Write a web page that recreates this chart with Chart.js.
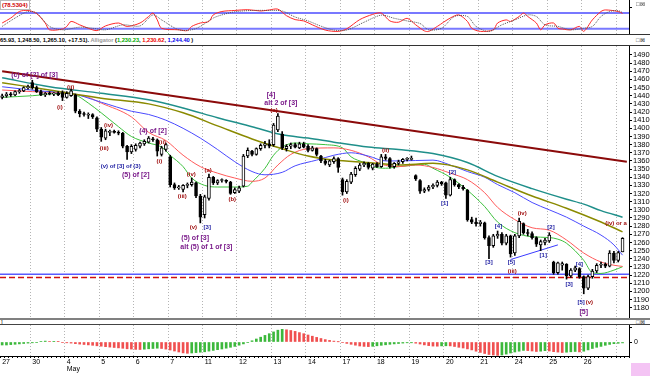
<!DOCTYPE html>
<html>
<head>
<meta charset="utf-8">
<title>Alligator hourly</title>
<script src="https://cdn.jsdelivr.net/npm/chart.js@4.4.1/dist/chart.umd.min.js"></script>
<style>
  html, body { margin: 0; padding: 0; background: #fff; }
  #wrap { position: relative; width: 650px; height: 376px; overflow: hidden; font-family: "Liberation Sans", Arial, sans-serif; }
  canvas { position: absolute; left: 0; }
  .rule { position: absolute; left: 0; width: 650px; }
  #hdr { position: absolute; left: 0; top: 35px; height: 10px; line-height: 10px; font-size: 5.7px; font-weight: bold; white-space: nowrap; color: #000; }
  #stochVal { position: absolute; left: 0; top: 0; font-size: 6px; font-weight: bold; color: #d00000; background: #fff; padding: 0 1px; line-height: 8px; border: 1px solid #bbb; }
  .icons { position: absolute; left: 636px; font-size: 6px; line-height: 6px; color: #333; }
  #pink { position: absolute; left: 631px; top: 363px; width: 19px; height: 13px; background: #f4c4f4; }
</style>
</head>
<body>
<div id="wrap">
  <canvas id="stoch" width="650" height="34" style="top:0"></canvas>
  <div id="stochVal">(78.5304)</div>
  <div class="icons" style="top:1px">&#9633;&#8864;</div>
  <div class="rule" style="top:34px;height:1px;background:#333"></div>
  <div id="hdr">65.93, 1,248.50, 1,265.10, +17.51). <span style="color:#999">Alligator</span> (<span style="color:#0a0">1,230.23</span>, <span style="color:#e00">1,230.62</span>, <span style="color:#00e">1,244.40</span> )</div>
  <div class="icons" style="top:37px">&#9633;&#8864;</div>
  <div class="rule" style="top:45px;height:1px;background:#333"></div>
  <canvas id="main" width="650" height="272" style="top:46px"></canvas>
  <div class="rule" style="top:318px;height:2px;background:#808080"></div>
  <div style="position:absolute;left:1px;top:319px;font-size:6px;line-height:6px">]</div>
  <div class="icons" style="top:319px">&#9633;&#8864;</div>
  <div class="rule" style="top:324px;height:1px;background:#444"></div>
  <canvas id="ao" width="650" height="51" style="top:325px"></canvas>
  <div id="pink"></div>
</div>
<script>
// hourly bars, 8 per session (first session partly off screen)
const dayNames = ['27', '30', '4', '5', '6', '7', '11', '12', '13', '14', '17', '18', '19', '20', '21', '24', '25', '26'];
const dayFirstBar = [0, 7, 15, 23, 31, 39, 47, 55, 63, 71, 79, 87, 95, 103, 111, 119, 127, 135, 143];
const monthMarks = [[15, 'May']];
const slotCount = 146;

// [open, high, low, close]
const ohlc = [
  // Apr 27
  [1438,1442,1436,1440],[1440,1444,1438,1442],[1442,1444,1439,1441],[1441,1446,1440,1445],
  [1445,1448,1443,1446],[1446,1451,1445,1450],[1450,1453,1448,1451],
  // Apr 30
  [1456,1459,1448,1450],[1450,1452,1444,1445],[1445,1447,1440,1441],[1441,1444,1439,1443],
  [1443,1445,1441,1442],[1442,1444,1440,1443],[1443,1445,1440,1441],[1444,1446,1434,1438],
  // May 4
  [1438,1445,1437,1443],[1440,1448,1439,1446],[1441,1442,1419,1421],[1421,1423,1414,1418],
  [1418,1420,1415,1417],[1416,1419,1412,1417],[1417,1418,1412,1414],[1413,1414,1396,1399],
  // May 5
  [1399,1401,1384,1389],[1388,1399,1386,1397],[1395,1398,1391,1396],[1396,1398,1394,1395],
  [1395,1397,1392,1394],[1394,1395,1376,1378],[1378,1379,1362,1371],[1371,1380,1369,1378],
  // May 6
  [1374,1381,1372,1379],[1378,1383,1376,1382],[1381,1386,1379,1384],[1383,1390,1382,1388],
  [1387,1389,1384,1386],[1386,1387,1366,1372],[1368,1378,1366,1376],[1374,1382,1372,1380],
  // May 7
  [1365,1367,1328,1331],[1331,1333,1325,1327],[1327,1330,1325,1328],[1325,1331,1322,1330],
  [1330,1333,1327,1331],[1331,1339,1329,1334],[1333,1334,1315,1317],[1317,1319,1284,1291],
  // May 11
  [1294,1318,1290,1316],[1314,1344,1312,1340],[1340,1341,1331,1333],[1333,1337,1331,1336],
  [1336,1338,1334,1336],[1336,1337,1333,1335],[1334,1335,1319,1320],[1321,1327,1320,1325],
  // May 12
  [1323,1329,1321,1327],[1329,1368,1328,1366],[1366,1376,1364,1373],[1372,1373,1366,1368],
  [1368,1376,1367,1375],[1375,1381,1373,1379],[1379,1384,1376,1381],[1381,1386,1376,1378],
  // May 13
  [1380,1406,1378,1404],[1398,1418,1396,1415],[1393,1396,1374,1376],[1375,1380,1372,1378],
  [1378,1382,1375,1380],[1380,1382,1376,1377],[1376,1383,1375,1381],[1381,1383,1376,1377],
  // May 14
  [1378,1380,1371,1373],[1373,1378,1372,1376],[1375,1376,1366,1368],[1366,1367,1358,1360],
  [1360,1362,1355,1357],[1355,1361,1353,1360],[1359,1365,1357,1363],[1363,1364,1346,1352],
  // May 17
  [1337,1339,1318,1322],[1322,1337,1320,1335],[1334,1346,1332,1344],[1343,1353,1341,1351],
  [1350,1357,1348,1355],[1355,1359,1353,1357],[1357,1358,1350,1352],[1351,1357,1349,1356],
  // May 18
  [1356,1358,1352,1353],[1353,1368,1352,1365],[1365,1368,1361,1363],[1363,1364,1351,1353],
  [1353,1358,1351,1357],[1357,1361,1355,1359],[1359,1363,1357,1362],[1362,1364,1360,1362],
  // May 19
  [1362,1366,1361,1363],[1342,1343,1336,1338],[1336,1337,1320,1323],[1323,1327,1321,1325],
  [1325,1330,1323,1328],[1328,1332,1326,1330],[1330,1336,1328,1334],[1334,1335,1330,1332],
  // May 20
  [1333,1334,1314,1318],[1318,1340,1317,1337],[1337,1338,1329,1331],[1331,1332,1326,1328],
  [1328,1330,1324,1326],[1324,1325,1286,1288],[1288,1291,1283,1285],[1285,1290,1280,1283],
  // May 21
  [1283,1287,1280,1285],[1284,1285,1264,1266],[1266,1268,1240,1256],[1256,1270,1254,1268],
  [1268,1274,1265,1270],[1270,1272,1257,1259],[1259,1270,1257,1268],[1268,1269,1242,1246],
  // May 24
  [1247,1270,1244,1268],[1268,1290,1266,1286],[1283,1284,1270,1272],[1272,1276,1268,1271],
  [1271,1273,1264,1266],[1266,1267,1255,1258],[1257,1263,1250,1261],[1260,1265,1257,1263],
  // May 25
  [1262,1272,1260,1269],[1236,1237,1221,1223],[1223,1236,1221,1235],[1232,1236,1226,1234],
  [1233,1234,1215,1219],[1219,1228,1217,1226],[1226,1231,1224,1229],[1228,1229,1216,1218],
  // May 26
  [1218,1219,1197,1204],[1204,1220,1202,1218],[1218,1227,1216,1225],[1225,1234,1223,1232],
  [1232,1236,1229,1233],[1233,1235,1229,1231],[1231,1250,1230,1247],[1247,1249,1235,1238],
  // May 27
  [1238,1249,1236,1247.6],[1248.5,1265.9,1248.5,1265.1]
];

// moving averages, read at [bar, value]
const tealMa = [[0,1462],[11,1451],[23,1443],[34,1435],[42,1425],[50,1413],[58,1402],[65,1392],[71,1388],[77,1383],[85,1377],[92,1374],[100,1369],[108,1358],[115,1341],[123,1326],[131,1313],[135,1307],[139,1299],[144,1291]];
const oliveMa = [[0,1456],[11,1447],[23,1437],[34,1430],[42,1419],[50,1403],[58,1387],[65,1375],[71,1366],[77,1361],[85,1358],[92,1355],[100,1357],[108,1349],[115,1334],[123,1317],[131,1302],[139,1285],[144,1273]];
const jaw = [[0,1451],[11,1445],[15,1444],[23,1432],[30,1421],[34,1417],[38,1410],[42,1400],[46,1388],[50,1374],[54,1359],[58,1347],[61,1343],[65,1346],[68,1354],[73,1361],[77,1367],[81,1370],[85,1366],[89,1360],[92,1360],[100,1361],[104,1355],[108,1347],[112,1340],[115,1331],[119,1321],[123,1309],[127,1300],[131,1291],[135,1280],[139,1269],[142,1257],[144,1244.4]];
const teeth = [[0,1447],[7,1445],[15,1443],[20,1438],[23,1431],[30,1414],[34,1395],[38,1385],[42,1367],[46,1353],[50,1345],[54,1339],[58,1335],[61,1339],[64,1355],[67,1368],[71,1375],[77,1376],[81,1373],[85,1365],[88,1356],[92,1353],[96,1355],[100,1352],[104,1345],[108,1337],[112,1321],[115,1303],[119,1288],[123,1278],[127,1275],[131,1263],[135,1247],[139,1236],[142,1232],[144,1230.6]];
const lips = [[0,1438],[7,1440],[14,1443],[17,1441],[20,1431],[23,1419],[27,1402],[30,1390],[34,1382],[37,1377],[39,1367],[42,1353],[44,1339],[47,1330],[50,1328],[54,1328],[57,1329],[58,1334],[61,1351],[63,1367],[65,1377],[68,1382],[71,1381],[75,1380],[79,1376],[81,1365],[84,1358],[86,1353],[89,1351],[92,1353],[96,1355],[98,1356],[100,1351],[104,1340],[108,1324],[112,1304],[115,1285],[119,1272],[123,1267],[127,1266],[129,1264],[131,1259],[135,1238],[137,1223],[139,1222],[142,1226],[144,1230.2]];
const downTrend = [[0,1470],[145,1359]];
const supportTrend = [[118,1239],[129,1257]];
const supportBlue = 1221;
const supportRed = 1217;

// wave count: text, bar, price, degree
const waveLabels = [
  ['(c) of [2] of [3]', 7.5, 1465, 'major'],
  ['(i)', 13.4, 1426, 'minor'],
  ['(ii)', 15.9, 1450, 'minor'],
  ['(iii)', 23.7, 1376, 'minor'],
  ['(iv)', 24.7, 1404, 'minor'],
  ['(4) of [2]', 35, 1397, 'major'],
  ['(v) of [3] of (3)', 27.5, 1353, 'blue'],
  ['(5) of [2]', 31, 1343, 'major'],
  ['(i)', 36.5, 1359, 'minor'],
  ['(ii)', 37.2, 1383, 'minor'],
  ['(iii)', 41.8, 1316, 'minor'],
  ['(iv)', 43.9, 1344, 'minor'],
  ['(v)', 44.4, 1278, 'minor'],
  ['[3]', 47.6, 1278, 'blue'],
  ['(5) of [3]', 44.8, 1265, 'major'],
  ['alt (5) of 1 of [3]', 47.4, 1254, 'major'],
  ['(a)', 47.8, 1349, 'minor'],
  ['(b)', 53.4, 1313, 'minor'],
  ['[4]', 62.4, 1441, 'major'],
  ['alt 2 of [3]', 64.7, 1431, 'major'],
  ['(c)', 63.1, 1422, 'minor'],
  ['(i)', 79.8, 1312, 'minor'],
  ['(ii)', 89, 1373, 'minor'],
  ['[1]', 102.7, 1308, 'blue'],
  ['[2]', 104.5, 1346, 'blue'],
  ['[3]', 113, 1235, 'blue'],
  ['[4]', 115.2, 1280, 'blue'],
  ['[5]', 118.2, 1235, 'blue'],
  ['(iii)', 118.4, 1225, 'minor'],
  ['(iv)', 120.7, 1296, 'minor'],
  ['[1]', 125.6, 1244, 'blue'],
  ['[2]', 127.4, 1278, 'blue'],
  ['[3]', 131.6, 1208, 'blue'],
  ['[4]', 134, 1233, 'blue'],
  ['[5]', 134.4, 1186, 'blue'],
  ['(v)', 136.3, 1186, 'minor'],
  ['[5]', 135, 1175, 'major'],
  ['(iv) or a', 142.5, 1284, 'minor']
];

// slow stochastic
const stochK = [[0,42],[2,61],[4,86],[6,90],[8,78],[10,42],[11,16],[14,19],[15,29],[16,48],[18,35],[20,22],[22,13],[24,31],[27,42],[29,29],[32,42],[34,67],[35,80],[36,54],[37,22],[41,16],[43,13],[44,29],[46,42],[48,48],[49,73],[51,86],[54,90],[57,93],[60,88],[62,92],[64,95],[66,70],[68,55],[70,50],[72,35],[75,15],[78,10],[80,20],[83,55],[86,75],[88,80],[90,50],[92,45],[94,60],[96,35],[98,12],[99,10],[101,29],[104,61],[106,73],[108,48],[109,22],[111,10],[114,16],[115,42],[117,54],[118,48],[120,67],[121,80],[122,67],[124,42],[125,16],[126,35],[128,42],[129,22],[130,19],[132,16],[134,29],[135,10],[137,54],[139,86],[140,92],[143,86],[144,78.5]];
const stochD = [[0,29],[3,61],[6,86],[8,80],[11,29],[14,16],[18,26],[21,22],[24,16],[28,35],[32,31],[35,73],[37,54],[41,16],[44,16],[46,29],[49,61],[51,73],[54,85],[58,90],[62,90],[65,88],[68,65],[71,50],[74,30],[77,15],[80,15],[84,45],[88,72],[91,60],[94,50],[97,40],[99,16],[102,22],[105,67],[108,67],[110,29],[113,10],[116,35],[119,54],[122,73],[124,67],[126,35],[129,29],[132,16],[135,22],[137,29],[139,67],[141,86],[143,89],[144,82]];
const stochBands = [20, 80];

// awesome oscillator, one value per bar
const aoValues = [
  -3,-3,-2.6,-2.3,-1.9,-1.5,-1.1,
  -0.8,-0.4,0.6,0.9,0.6,0.7,0.3,-0.4,
  -0.8,-1.1,-1.7,-2.1,-2.5,-2.9,-3.3,-3.8,
  -4.2,-4.7,-5.1,-5.5,-5.9,-6.3,-6.8,-7.1,
  -7.4,-7.5,-7.2,-6.8,-6.5,-6.2,-6.5,-7.1,
  -8,-9,-10,-10.9,-11.3,-11,-10.6,-10.2,
  -9.8,-9.1,-8.4,-7.7,-7,-6.2,-5.3,-4.4,
  -3.2,-1.9,-0.6,1.2,3,4.8,6.6,8.3,
  10.1,11.8,12.7,12.2,11.5,10.6,9.4,8.3,
  7,5.8,4.6,3.5,2.4,1.6,0.9,0.2,
  -0.6,-1.4,-2.3,-3.2,-4,-4.4,-4.6,-4.3,
  -3.8,-3.3,-2.8,-2.3,-1.9,-1.5,-1.1,-0.8,
  -0.8,-1.2,-2,-2.9,-3.6,-4.1,-4.2,-3.9,
  -3.8,-3.9,-4.5,-5.3,-6,-6.9,-7.9,-9.2,
  -10.4,-11.5,-12.5,-13,-13.4,-13,-12.1,-11,
  -10,-9.2,-8.4,-8.6,-9,-9.5,-9.2,-8.7,
  -9,-9.7,-10.1,-10.5,-10.2,-9.8,-9.5,-9.9,
  -9.2,-7.9,-6.5,-5.3,-4.4,-3.3,-2.4,-1.7,
  -1.3,-0.9
];

const FONT = '"Liberation Sans", Arial, sans-serif';
const labels = Array.from({ length: slotCount }, (_, i) => i);
const dayStarts = new Set(dayFirstBar.slice(1));
const dayGridColor = c => dayStarts.has(c.index) ? '#b4b4b4' : 'rgba(0,0,0,0)';

function sparse(points) {
  const arr = new Array(slotCount).fill(null);
  points.forEach(([i, v]) => { arr[i] = v; });
  return arr;
}

function lineSet(points, color, width, extra) {
  return Object.assign({
    type: 'line', data: sparse(points), borderColor: color, borderWidth: width,
    pointRadius: 0, spanGaps: true, cubicInterpolationMode: 'monotone', order: 3
  }, extra || {});
}

function xScale() {
  return {
    offset: true,
    ticks: { display: false },
    grid: { offset: true, drawTicks: false, lineWidth: 1, color: dayGridColor },
    border: { display: false, dash: [1, 2] }
  };
}

function rightAxis(extra) {
  return Object.assign({
    position: 'right',
    border: { display: true, color: '#000' },
    grid: { drawOnChartArea: false, drawTicks: true, tickLength: 3, color: '#000' },
    afterFit: s => { s.width = 21; s.paddingTop = 0; s.paddingBottom = 0; }
  }, extra);
}

const baseOptions = {
  responsive: false, animation: false, events: [],
  layout: { padding: 0 },
  plugins: { legend: { display: false }, tooltip: { enabled: false } }
};

// horizontal levels drawn across the plot
const levelsPlugin = {
  id: 'levels',
  beforeDatasetsDraw(chart, args, opts) {
    const { ctx, chartArea, scales } = chart;
    (opts.lines || []).forEach(l => {
      const y = scales.y.getPixelForValue(l.value);
      ctx.save();
      ctx.strokeStyle = l.color;
      ctx.lineWidth = l.width;
      ctx.setLineDash(l.dash || []);
      ctx.beginPath();
      ctx.moveTo(chartArea.left, y);
      ctx.lineTo(chartArea.right, y);
      ctx.stroke();
      ctx.restore();
    });
  }
};

const labelStyle = {
  minor: { color: '#a01010', font: 'bold 6px ' + FONT },
  blue: { color: '#1a1aa0', font: 'bold 6px ' + FONT },
  major: { color: '#7a1a8a', font: 'bold 7px ' + FONT }
};

const wavePlugin = {
  id: 'waves',
  afterDatasetsDraw(chart) {
    const { ctx, scales } = chart;
    ctx.save();
    ctx.textAlign = 'center';
    ctx.textBaseline = 'middle';
    waveLabels.forEach(([text, bar, price, kind]) => {
      const st = labelStyle[kind];
      ctx.fillStyle = st.color;
      ctx.font = st.font;
      ctx.fillText(text, scales.x.getPixelForValue(bar), scales.y.getPixelForValue(price));
    });
    ctx.restore();
  }
};

// top: stochastic
new Chart(document.getElementById('stoch'), {
  type: 'line',
  data: {
    labels,
    datasets: [
      lineSet(stochD, '#555', 1, { borderDash: [1, 1], cubicInterpolationMode: 'default', tension: 0.3 }),
      lineSet(stochK, '#ff2a2a', 1, { cubicInterpolationMode: 'default', tension: 0.3 })
    ]
  },
  options: Object.assign({}, baseOptions, {
    plugins: Object.assign({}, baseOptions.plugins, {
      levels: { lines: stochBands.map(v => ({ value: v, color: '#7878ff', width: 2 })) }
    }),
    scales: {
      x: xScale(),
      y: rightAxis({
        min: 0, max: 130,
        ticks: { stepSize: 50, includeBounds: false, padding: 2, color: '#000', font: { size: 7, family: FONT },
          callback: v => v === 50 ? '50' : '' }
      })
    }
  }),
  plugins: [levelsPlugin]
});

// main: candles + alligator
const bodies = ohlc.map(r => [r[0], r[3]]);
const wicks = ohlc.map(r => [r[2], r[1]]);
const bodyColors = ohlc.map(r => r[3] >= r[0] ? '#ffffff' : '#000000');

new Chart(document.getElementById('main'), {
  type: 'bar',
  data: {
    labels,
    datasets: [
      { type: 'bar', data: bodies, backgroundColor: bodyColors, borderColor: '#000', borderWidth: 1,
        borderSkipped: false, barThickness: 3, grouped: false, minBarLength: 1, order: 0 },
      { type: 'bar', data: wicks, backgroundColor: '#000', barThickness: 1, grouped: false, order: 1 },
      lineSet(tealMa, '#1f8f8a', 1.5),
      lineSet(oliveMa, '#8a8a00', 1.5),
      lineSet(jaw, '#4a4aff', 1),
      lineSet(teeth, '#ff5a5a', 1),
      lineSet(lips, '#3cc03c', 1),
      lineSet(downTrend, '#8b0a0a', 2, { cubicInterpolationMode: 'default', tension: 0 }),
      lineSet(supportTrend, '#3a3aff', 1, { cubicInterpolationMode: 'default', tension: 0 })
    ]
  },
  options: Object.assign({}, baseOptions, {
    plugins: Object.assign({}, baseOptions.plugins, {
      levels: { lines: [
        { value: supportBlue, color: '#5a5aff', width: 1.5 },
        { value: supportRed, color: '#d01010', width: 1.5, dash: [6, 3] }
      ] }
    }),
    scales: {
      x: xScale(),
      y: rightAxis({
        min: 1167.3, max: 1501,
        ticks: { stepSize: 10, includeBounds: false, autoSkip: false, padding: 1, color: '#000',
          font: { size: 7.5, family: FONT },
          callback: v => (v >= 1180 && v <= 1490) ? String(v) : null }
      })
    }
  }),
  plugins: [levelsPlugin, wavePlugin]
});

// bottom: awesome oscillator + date axis
const aoColors = aoValues.map((v, i) => (i > 0 && v < aoValues[i - 1]) ? '#f05050' : '#3cb83c');

new Chart(document.getElementById('ao'), {
  type: 'bar',
  data: {
    labels,
    datasets: [{ data: aoValues, backgroundColor: aoColors, barThickness: 2 }]
  },
  options: Object.assign({}, baseOptions, {
    scales: {
      x: {
        offset: true,
        grid: {
          offset: true, drawTicks: true, tickLength: 2, lineWidth: 1,
          tickBorderDash: [], tickColor: '#000', color: dayGridColor
        },
        border: { display: true, color: '#000', dash: [1, 2] },
        ticks: {
          autoSkip: false, maxRotation: 0, align: 'start', padding: 0, color: '#000',
          font: { size: 7, family: FONT, lineHeight: 1.1 },
          callback: (v, i) => {
            const d = dayFirstBar.indexOf(i);
            if (d < 0 || d >= dayNames.length) return '';
            const m = monthMarks.find(mm => mm[0] === i);
            return m ? [dayNames[d], m[1]] : dayNames[d];
          }
        },
        afterFit: s => { s.height = 20; s.paddingLeft = 0; s.paddingRight = 0; }
      },
      y: rightAxis({
        min: -14, max: 17,
        ticks: { stepSize: 15, includeBounds: false, padding: 2, color: '#000', font: { size: 7, family: FONT },
          callback: v => v === 0 ? '0' : '' }
      })
    }
  })
});
</script>
</body>
</html>
